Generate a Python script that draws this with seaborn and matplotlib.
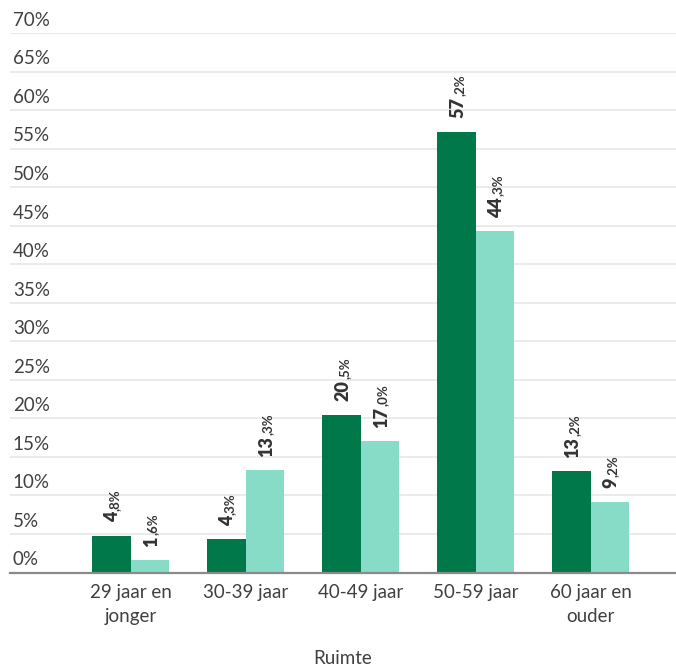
import matplotlib
matplotlib.use("Agg")
import matplotlib.pyplot as plt
import matplotlib.transforms as mtransforms
import seaborn as sns
import pandas as pd

categories = ["29 jaar en\njonger", "30-39 jaar", "40-49 jaar", "50-59 jaar", "60 jaar en\nouder"]
series_names = ["reeks_1", "reeks_2"]
values_1 = [4.8, 4.3, 20.5, 57.2, 13.2]
values_2 = [1.6, 13.3, 17.0, 44.3, 9.2]
y_ticks = [0, 5, 10, 15, 20, 25, 30, 35, 40, 45, 50, 55, 60, 65, 70]
x_title = "Ruimte"

colors = ["#00784A", "#86DCC6"]
text_color = "#404040"

sns.set_theme(style="white")
plt.rcParams["font.family"] = ["Lato", "DejaVu Sans"]

df = pd.DataFrame({
    "categorie": categories * 2,
    "reeks": [series_names[0]] * len(categories) + [series_names[1]] * len(categories),
    "waarde": values_1 + values_2,
})

fig = plt.figure(figsize=(6.76, 6.66), dpi=100)
ax = fig.add_axes([10 / 676, 1 - 572.5 / 666, 666 / 676, (572.5 - 33) / 666])

sns.barplot(data=df, x="categorie", y="waarde", hue="reeks", order=categories,
            hue_order=series_names, palette=colors, width=0.67, gap=0,
            saturation=1, legend=False, ax=ax, edgecolor="none")

ax.set_ylim(0, 70)
ax.set_xlim(-1.052, 4.74)

# Grid and spines
ax.set_yticks(y_ticks)
ax.yaxis.grid(True, color="#E8E8E8", linewidth=1.2)
ax.set_axisbelow(True)
for side in ["left", "right", "top"]:
    ax.spines[side].set_visible(False)
ax.spines["bottom"].set_color("#8A8A8A")
ax.spines["bottom"].set_linewidth(1.6)

# Y labels drawn inside the plot, just above each gridline
ax.set_yticklabels([])
ax.tick_params(axis="y", length=0)
ytrans = mtransforms.blended_transform_factory(ax.transAxes, ax.transData)
for t in y_ticks:
    ax.annotate(f"{t}%", xy=(0, t), xycoords=ytrans, xytext=(2, 3),
                textcoords="offset points", ha="left", va="bottom",
                fontsize=13.5, color=text_color)

ax.tick_params(axis="x", length=0, pad=8, labelsize=13.5, labelcolor=text_color)
for lbl in ax.get_xticklabels():
    lbl.set_linespacing(1.5)
ax.set_xlabel(x_title, fontsize=13.5, color=text_color, labelpad=18)
ax.set_ylabel("")

# Value labels: bold integer part followed by a smaller decimal part
fig.canvas.draw()
renderer = fig.canvas.get_renderer()
bars = [p for p in ax.patches]
all_vals = values_1 + values_2
for bar, v in zip(bars, all_vals):
    x = bar.get_x() + bar.get_width() / 2
    top = bar.get_height()
    s = f"{v:.1f}".replace(".", ",")
    whole, dec = s.split(",")
    t1 = ax.annotate(whole, xy=(x, top), xytext=(4.8, 9.5), textcoords="offset points",
                     rotation=90, rotation_mode="anchor", ha="left", va="baseline",
                     fontsize=13, fontweight="heavy", color="#333333")
    ext = t1.get_window_extent(renderer)
    length_pt = ext.height * 72 / fig.dpi
    ax.annotate("," + dec + "%", xy=(x, top), xytext=(4.8, 9.5 + length_pt + 0.8),
                textcoords="offset points", rotation=90, rotation_mode="anchor",
                ha="left", va="baseline", fontsize=9.5, fontweight="bold",
                color="#333333")

fig.savefig("out.png", dpi=100)
